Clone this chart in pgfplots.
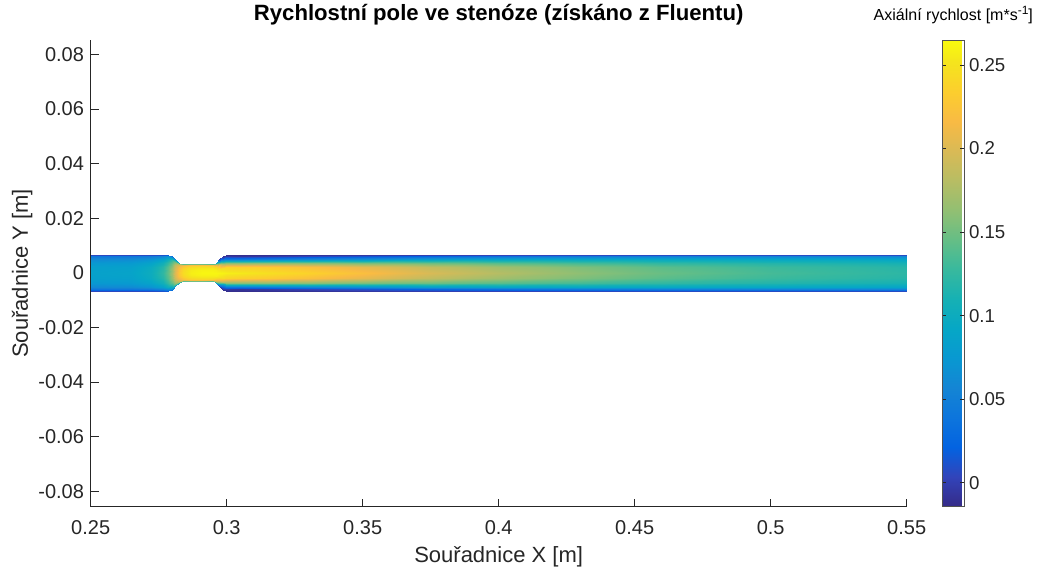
\documentclass[border=0pt]{standalone}
\usepackage{pgfplots}
\pgfplotsset{compat=1.18}
\usepackage{fontspec}
\setmainfont{Liberation Sans}
\definecolor{axgray}{rgb}{0.15,0.15,0.15}

% MATLAB parula colour map (every fourth entry of the 64-step table)
\pgfplotsset{
  colormap={parula}{
    rgb(0pt)=(0.2081,0.1663,0.5292)
    rgb(4pt)=(0.1959,0.2645,0.7279)
    rgb(8pt)=(0.0117,0.3875,0.8820)
    rgb(12pt)=(0.0498,0.4586,0.8641)
    rgb(16pt)=(0.0793,0.5200,0.8312)
    rgb(20pt)=(0.0343,0.5966,0.8199)
    rgb(24pt)=(0.0228,0.6535,0.7768)
    rgb(28pt)=(0.0843,0.6928,0.7062)
    rgb(32pt)=(0.2178,0.7250,0.6193)
    rgb(36pt)=(0.3953,0.7459,0.5244)
    rgb(40pt)=(0.5709,0.7485,0.4494)
    rgb(44pt)=(0.7184,0.7411,0.3905)
    rgb(48pt)=(0.8507,0.7299,0.3360)
    rgb(52pt)=(0.9739,0.7314,0.2666)
    rgb(56pt)=(0.9880,0.8066,0.1794)
    rgb(60pt)=(0.9589,0.8949,0.1132)
    rgb(63pt)=(0.9763,0.9831,0.0538)
  }
}

\begin{document}
\begin{tikzpicture}
\useasboundingbox (-68pt,-46pt) rectangle (709.75pt,380pt);
\begin{axis}[
  at={(0,0)}, anchor=south west,
  scale only axis, width=612pt, height=350pt,
  xmin=0.25, xmax=0.55, ymin=-0.0857, ymax=0.0853,
  axis lines=left,
  axis line style={-, draw=axgray, line width=0.6pt},
  tick style={draw=axgray, line width=0.6pt},
  tick align=inside, major tick length=6pt,
  xtick={0.25,0.3,0.35,0.4,0.45,0.5,0.55},
  xticklabels={0.25,0.3,0.35,0.4,0.45,0.5,0.55},
  ytick={-0.08,-0.06,-0.04,-0.02,0,0.02,0.04,0.06,0.08},
  yticklabels={-0.08,-0.06,-0.04,-0.02,0,0.02,0.04,0.06,0.08},
  scaled ticks=false,
  ticklabel style={font=\fontsize{15}{18}\selectfont, text=axgray},
  xticklabel style={anchor=base, yshift=-21pt},
  yticklabel style={anchor=east, xshift=-1.5pt},
  title={Rychlostní pole ve stenóze (získáno z Fluentu)},
  title style={font=\bfseries\fontsize{16.6}{20}\selectfont, at={(axis description cs:0.5,1.0236)}, anchor=base},
  xlabel={Souřadnice X [m]},
  xlabel style={font=\fontsize{16.5}{20}\selectfont, text=axgray, at={(axis description cs:0.5,-0.12)}, anchor=base},
  ylabel={Souřadnice Y [m]},
  ylabel style={font=\fontsize{16.5}{20}\selectfont, text=axgray, at={(axis description cs:-0.0768,0.5)}, anchor=base},
  colormap name=parula,
  point meta min=-0.0144, point meta max=0.265,
  colorbar,
  colorbar style={
    at={(parent axis.north east)}, anchor=north west, xshift=18.2pt,
    scale only axis, width=16.5pt, height=350pt,
    ytick={0,0.05,0.1,0.15,0.2,0.25},
    yticklabels={0,0.05,0.1,0.15,0.2,0.25},
    scaled y ticks=false,
    tick align=inside, major tick length=3pt,
    tick style={draw=axgray, line width=0.5pt},
    axis line style={draw=axgray!80, line width=0.5pt},
    yticklabel style={font=\fontsize{14}{17}\selectfont, text=axgray, anchor=west},
    title={Axiální rychlost [m*s\raisebox{0.42em}{\fontsize{9}{9}\selectfont -1}]},
    title style={font=\fontsize{12}{15}\selectfont, at={(axis description cs:0.5,1.0236)}, anchor=base},
  },
]
% axial velocity on a body-fitted grid: one scanline per x station, wall to wall
\addplot[surf, shader=interp, point meta=explicit] table[x=x, y=y, meta=u] {
x y u
0.25 0.0067 0.006
0.25 0.00603 0.040
0.25 0.005025 0.060
0.25 0.003685 0.075
0.25 0.00201 0.083
0.25 0 0.085
0.25 -0.00201 0.083
0.25 -0.003685 0.075
0.25 -0.005025 0.060
0.25 -0.00603 0.040
0.25 -0.0067 0.006

0.265 0.0067 0.006
0.265 0.00603 0.041
0.265 0.005025 0.062
0.265 0.003685 0.077
0.265 0.00201 0.085
0.265 0 0.088
0.265 -0.00201 0.085
0.265 -0.003685 0.077
0.265 -0.005025 0.062
0.265 -0.00603 0.041
0.265 -0.0067 0.006

0.272 0.0067 0.008
0.272 0.00603 0.046
0.272 0.005025 0.070
0.272 0.003685 0.088
0.272 0.00201 0.098
0.272 0 0.101
0.272 -0.00201 0.098
0.272 -0.003685 0.088
0.272 -0.005025 0.070
0.272 -0.00603 0.046
0.272 -0.0067 0.008

0.2765 0.0067 0.012
0.2765 0.00603 0.055
0.2765 0.005025 0.085
0.2765 0.003685 0.106
0.2765 0.00201 0.119
0.2765 0 0.124
0.2765 -0.00201 0.119
0.2765 -0.003685 0.106
0.2765 -0.005025 0.085
0.2765 -0.00603 0.055
0.2765 -0.0067 0.012

0.2784 0.0067 0.020
0.2784 0.00603 0.068
0.2784 0.005025 0.102
0.2784 0.003685 0.126
0.2784 0.00201 0.140
0.2784 0 0.145
0.2784 -0.00201 0.140
0.2784 -0.003685 0.126
0.2784 -0.005025 0.102
0.2784 -0.00603 0.068
0.2784 -0.0067 0.020

0.2798 0.00613 0.030
0.2798 0.005517 0.090
0.2798 0.0045975 0.125
0.2798 0.0033715 0.150
0.2798 0.001839 0.165
0.2798 0 0.170
0.2798 -0.001839 0.165
0.2798 -0.0033715 0.150
0.2798 -0.0045975 0.125
0.2798 -0.005517 0.090
0.2798 -0.00613 0.030

0.2811 0.0049 0.060
0.2811 0.00441 0.130
0.2811 0.003675 0.165
0.2811 0.002695 0.185
0.2811 0.00147 0.196
0.2811 0 0.200
0.2811 -0.00147 0.196
0.2811 -0.002695 0.185
0.2811 -0.003675 0.165
0.2811 -0.00441 0.130
0.2811 -0.0049 0.060

0.2825 0.00359 0.100
0.2825 0.003231 0.175
0.2825 0.0026925 0.200
0.2825 0.0019745 0.215
0.2825 0.001077 0.225
0.2825 0 0.228
0.2825 -0.001077 0.225
0.2825 -0.0019745 0.215
0.2825 -0.0026925 0.200
0.2825 -0.003231 0.175
0.2825 -0.00359 0.100

0.2838 0.0031 0.140
0.2838 0.00279 0.205
0.2838 0.002325 0.224
0.2838 0.001705 0.236
0.2838 0.00093 0.243
0.2838 0 0.245
0.2838 -0.00093 0.243
0.2838 -0.001705 0.236
0.2838 -0.002325 0.224
0.2838 -0.00279 0.205
0.2838 -0.0031 0.140

0.287 0.0031 0.150
0.287 0.00279 0.220
0.287 0.002325 0.238
0.287 0.001705 0.250
0.287 0.00093 0.256
0.287 0 0.258
0.287 -0.00093 0.256
0.287 -0.001705 0.250
0.287 -0.002325 0.238
0.287 -0.00279 0.220
0.287 -0.0031 0.150

0.291 0.0031 0.150
0.291 0.00279 0.222
0.291 0.002325 0.242
0.291 0.001705 0.254
0.291 0.00093 0.260
0.291 0 0.262
0.291 -0.00093 0.260
0.291 -0.001705 0.254
0.291 -0.002325 0.242
0.291 -0.00279 0.222
0.291 -0.0031 0.150

0.2949 0.0031 0.140
0.2949 0.00279 0.218
0.2949 0.002325 0.240
0.2949 0.001705 0.254
0.2949 0.00093 0.260
0.2949 0 0.262
0.2949 -0.00093 0.260
0.2949 -0.001705 0.254
0.2949 -0.002325 0.240
0.2949 -0.00279 0.218
0.2949 -0.0031 0.140

0.2961 0.00363 0.080
0.2961 0.003267 0.160
0.2961 0.0027225 0.215
0.2961 0.0019965 0.245
0.2961 0.001089 0.258
0.2961 0 0.262
0.2961 -0.001089 0.258
0.2961 -0.0019965 0.245
0.2961 -0.0027225 0.215
0.2961 -0.003267 0.160
0.2961 -0.00363 0.080

0.2973 0.0049 0.000
0.2973 0.00441 0.050
0.2973 0.003675 0.140
0.2973 0.002695 0.215
0.2973 0.00147 0.252
0.2973 0 0.261
0.2973 -0.00147 0.252
0.2973 -0.002695 0.215
0.2973 -0.003675 0.140
0.2973 -0.00441 0.050
0.2973 -0.0049 0.000

0.2985 0.00617 -0.010
0.2985 0.005553 0.005
0.2985 0.0046275 0.060
0.2985 0.0033935 0.180
0.2985 0.001851 0.245
0.2985 0 0.260
0.2985 -0.001851 0.245
0.2985 -0.0033935 0.180
0.2985 -0.0046275 0.060
0.2985 -0.005553 0.005
0.2985 -0.00617 -0.010

0.2997 0.0067 -0.012
0.2997 0.00603 -0.004
0.2997 0.005025 0.040
0.2997 0.003685 0.160
0.2997 0.00201 0.240
0.2997 0 0.258
0.2997 -0.00201 0.240
0.2997 -0.003685 0.160
0.2997 -0.005025 0.040
0.2997 -0.00603 -0.004
0.2997 -0.0067 -0.012

0.305 0.0067 -0.012
0.305 0.00603 -0.008
0.305 0.005025 0.040
0.305 0.003685 0.160
0.305 0.00201 0.236
0.305 0 0.255
0.305 -0.00201 0.236
0.305 -0.003685 0.160
0.305 -0.005025 0.040
0.305 -0.00603 -0.008
0.305 -0.0067 -0.012

0.315 0.0067 -0.011
0.315 0.00603 -0.004
0.315 0.005025 0.045
0.315 0.003685 0.162
0.315 0.00201 0.232
0.315 0 0.248
0.315 -0.00201 0.232
0.315 -0.003685 0.162
0.315 -0.005025 0.045
0.315 -0.00603 -0.004
0.315 -0.0067 -0.011

0.33 0.0067 -0.009
0.33 0.00603 0.003
0.33 0.005025 0.055
0.33 0.003685 0.160
0.33 0.00201 0.222
0.33 0 0.238
0.33 -0.00201 0.222
0.33 -0.003685 0.160
0.33 -0.005025 0.055
0.33 -0.00603 0.003
0.33 -0.0067 -0.009

0.35 0.0067 -0.005
0.35 0.00603 0.012
0.35 0.005025 0.065
0.35 0.003685 0.153
0.35 0.00201 0.206
0.35 0 0.221
0.35 -0.00201 0.206
0.35 -0.003685 0.153
0.35 -0.005025 0.065
0.35 -0.00603 0.012
0.35 -0.0067 -0.005

0.375 0.0067 0.000
0.375 0.00603 0.025
0.375 0.005025 0.080
0.375 0.003685 0.148
0.375 0.00201 0.186
0.375 0 0.198
0.375 -0.00201 0.186
0.375 -0.003685 0.148
0.375 -0.005025 0.080
0.375 -0.00603 0.025
0.375 -0.0067 0.000

0.4 0.0067 0.003
0.4 0.00603 0.035
0.4 0.005025 0.088
0.4 0.003685 0.140
0.4 0.00201 0.170
0.4 0 0.180
0.4 -0.00201 0.170
0.4 -0.003685 0.140
0.4 -0.005025 0.088
0.4 -0.00603 0.035
0.4 -0.0067 0.003

0.43 0.0067 0.006
0.43 0.00603 0.044
0.43 0.005025 0.092
0.43 0.003685 0.132
0.43 0.00201 0.155
0.43 0 0.162
0.43 -0.00201 0.155
0.43 -0.003685 0.132
0.43 -0.005025 0.092
0.43 -0.00603 0.044
0.43 -0.0067 0.006

0.46 0.0067 0.008
0.46 0.00603 0.050
0.46 0.005025 0.093
0.46 0.003685 0.124
0.46 0.00201 0.141
0.46 0 0.147
0.46 -0.00201 0.141
0.46 -0.003685 0.124
0.46 -0.005025 0.093
0.46 -0.00603 0.050
0.46 -0.0067 0.008

0.5 0.0067 0.008
0.5 0.00603 0.054
0.5 0.005025 0.092
0.5 0.003685 0.117
0.5 0.00201 0.129
0.5 0 0.133
0.5 -0.00201 0.129
0.5 -0.003685 0.117
0.5 -0.005025 0.092
0.5 -0.00603 0.054
0.5 -0.0067 0.008

0.55 0.0067 0.008
0.55 0.00603 0.056
0.55 0.005025 0.090
0.55 0.003685 0.110
0.55 0.00201 0.119
0.55 0 0.122
0.55 -0.00201 0.119
0.55 -0.003685 0.110
0.55 -0.005025 0.090
0.55 -0.00603 0.056
0.55 -0.0067 0.008
};
\end{axis}
\end{tikzpicture}
\end{document}
